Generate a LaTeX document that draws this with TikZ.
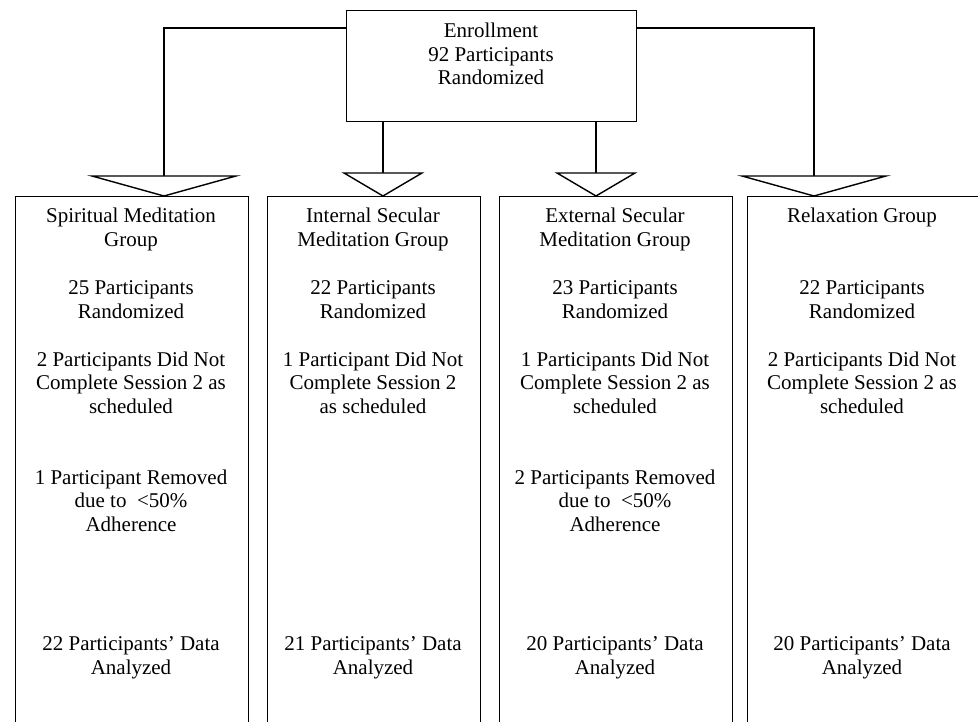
\documentclass[tikz,border=0pt]{standalone}
\usepackage{fontspec}
\setmainfont{Liberation Serif}
\begin{document}
\begin{tikzpicture}[x=1pt,y=-1pt,
  gbox/.style={draw, line width=1.3pt, inner sep=0pt, anchor=north west},
  conn/.style={line width=1.8pt},
  tri/.style={line width=1.4pt, line join=miter},
  txt/.style={align=center, inner sep=0pt, anchor=north, font=\fontsize{21}{23.5}\selectfont}]
\useasboundingbox (0,0) rectangle (978,722);
\clip (0,0) rectangle (978,722);
\fill[white] (0,0) rectangle (978,722);

% enrollment box
\node[gbox, minimum width=290pt, minimum height=111pt] (enroll) at (346,10) {};
\node[txt] (enrolltxt) at (491,23) {Enrollment\\92 Participants\\Randomized};

% group boxes
\node[gbox, minimum width=233pt, minimum height=560pt] (g1) at (15,196) {};
\node[gbox, minimum width=213pt, minimum height=560pt] (g2) at (267,196) {};
\node[gbox, minimum width=233pt, minimum height=560pt] (g3) at (499,196) {};
\node[gbox, minimum width=245pt, minimum height=560pt] (g4) at (747,196) {};

% triangle tops and apexes
\coordinate (t1) at (164,176);
\coordinate (a1) at (164,196);
\coordinate (t2) at (383,173);
\coordinate (a2) at (383,196);
\coordinate (t3) at (596,173);
\coordinate (a3) at (596,196);
\coordinate (t4) at (814,176);
\coordinate (a4) at (814,196);

% connectors
\draw[conn] ([yshift=-18pt]enroll.north west) -| (t1);
\draw[conn] (t2 |- enroll.south) -- (t2);
\draw[conn] (t3 |- enroll.south) -- (t3);
\draw[conn] ([yshift=-18pt]enroll.north east) -| (t4);

% triangles
\draw[tri, fill=white] ([xshift=-72pt]t1) -- ([xshift=72pt]t1) -- (a1) -- cycle;
\draw[tri, fill=white] ([xshift=-39pt]t2) -- ([xshift=39pt]t2) -- (a2) -- cycle;
\draw[tri, fill=white] ([xshift=-39pt]t3) -- ([xshift=39pt]t3) -- (a3) -- cycle;
\draw[tri, fill=white] ([xshift=-72pt]t4) -- ([xshift=72pt]t4) -- (a4) -- cycle;

% column 1
\node[txt] (c1a) at (131,208) {Spiritual Meditation\\Group};
\node[txt] (c1b) at (131,280.5) {25 Participants\\Randomized};
\node[txt] (c1c) at (131,351.5) {2 Participants Did Not\\Complete Session 2 as\\scheduled};
\node[txt] (c1d) at (131,469.5) {1 Participant Removed\\due to \ {<}50\%\\Adherence};
\node[txt] (c1e) at (131,636.5) {22 Participants' Data\\Analyzed};

% column 2
\node[txt] (c2a) at (373,208) {Internal Secular\\Meditation Group};
\node[txt] (c2b) at (373,280.5) {22 Participants\\Randomized};
\node[txt] (c2c) at (373,351.5) {1 Participant Did Not\\Complete Session 2\\as scheduled};
\node[txt] (c2e) at (373,636.5) {21 Participants' Data\\Analyzed};

% column 3
\node[txt] (c3a) at (615,208) {External Secular\\Meditation Group};
\node[txt] (c3b) at (615,280.5) {23 Participants\\Randomized};
\node[txt] (c3c) at (615,351.5) {1 Participants Did Not\\Complete Session 2 as\\scheduled};
\node[txt] (c3d) at (615,469.5) {2 Participants Removed\\due to \ {<}50\%\\Adherence};
\node[txt] (c3e) at (615,636.5) {20 Participants' Data\\Analyzed};

% column 4
\node[txt] (c4a) at (862,208) {Relaxation Group};
\node[txt] (c4b) at (862,280.5) {22 Participants\\Randomized};
\node[txt] (c4c) at (862,351.5) {2 Participants Did Not\\Complete Session 2 as\\scheduled};
\node[txt] (c4e) at (862,636.5) {20 Participants' Data\\Analyzed};
\end{tikzpicture}
\end{document}
